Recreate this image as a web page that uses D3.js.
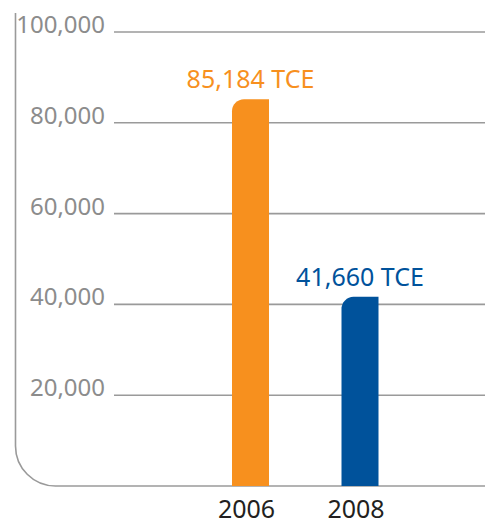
<!DOCTYPE html>
<html>
<head>
<meta charset="utf-8">
<script src="https://cdn.jsdelivr.net/npm/d3@7"></script>
<style>
  html, body { margin: 0; padding: 0; background: #fff; }
  svg { display: block; font-family: "Noto Sans", "Open Sans", sans-serif; }
</style>
</head>
<body>
<svg id="chart" width="485" height="525"></svg>
<script>
// Energy savings by year, in tonnes of coal equivalent
const years = ["2006", "2008"];
const values = [85184, 41660];
const valueLabels = ["85,184 TCE", "41,660 TCE"];
const barColors = ["#F7901E", "#00529B"];
const yTicks = [20000, 40000, 60000, 80000, 100000];

const svg = d3.select("#chart");
const W = 485;

const y = d3.scaleLinear().domain([0, 100000]).range([486, 32]);
const x = d3.scalePoint().domain(years).range([250.5, 360]);
const barW = 37;
const r = 12;
const axisX = 15.5, axisTop = 13, cornerR = 40;

// frame: left axis curving into the baseline
const base = y(0);
svg.append("path")
  .attr("d", `M${axisX},${axisTop} L${axisX},${base - cornerR} A${cornerR},${cornerR} 0 0 0 ${axisX + cornerR},${base} L${W},${base}`)
  .attr("fill", "none")
  .attr("stroke", "#9a9a9a")
  .attr("stroke-width", 1.6);

// gridlines with their labels
const grid = svg.append("g");
grid.selectAll("line").data(yTicks).join("line")
  .attr("x1", 114).attr("x2", W)
  .attr("y1", d => y(d)).attr("y2", d => y(d))
  .attr("stroke", "#9a9a9a").attr("stroke-width", 1.6);
grid.selectAll("text").data(yTicks).join("text")
  .attr("x", 105).attr("y", d => y(d) + 1)
  .attr("text-anchor", "end")
  .attr("font-size", 24)
  .attr("fill", "#8c8c8c")
  .text(d => d3.format(",")(d));

// bars with rounded top-left corner
function barPath(x0, y0, w, h) {
  const rr = Math.min(r, h);
  return `M${x0},${y0 + h} L${x0},${y0 + rr} A${rr},${rr} 0 0 1 ${x0 + rr},${y0} L${x0 + w},${y0} L${x0 + w},${y0 + h} Z`;
}
svg.append("g").selectAll("path").data(years).join("path")
  .attr("d", (d, i) => barPath(x(d) - barW / 2, y(values[i]), barW, base - y(values[i])))
  .attr("fill", (d, i) => barColors[i]);

// value labels
svg.append("g").selectAll("text").data(years).join("text")
  .attr("x", d => x(d))
  .attr("y", (d, i) => y(values[i]) - 11)
  .attr("text-anchor", "middle")
  .attr("font-size", 25)
  .attr("fill", (d, i) => barColors[i])
  .text((d, i) => valueLabels[i]);

// year labels
svg.append("g").selectAll("text").data(years).join("text")
  .attr("x", d => x(d) - 4)
  .attr("y", 518)
  .attr("text-anchor", "middle")
  .attr("font-size", 25)
  .attr("fill", "#231f20")
  .text(d => d);
</script>
</body>
</html>
